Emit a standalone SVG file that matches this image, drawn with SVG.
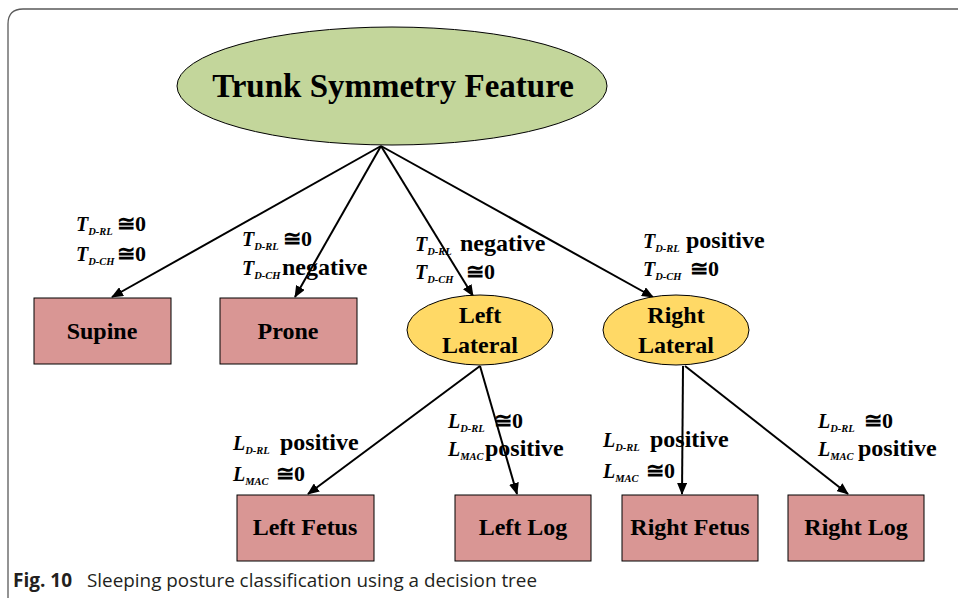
<svg xmlns="http://www.w3.org/2000/svg" width="958" height="598" viewBox="0 0 958 598">
<style>
.frame{fill:none;stroke:#5a5a5a;stroke-width:1.3}
.conn line{stroke:#000;stroke-width:2;marker-end:url(#ah)}
.root{fill:#c3d69b;stroke:#000;stroke-width:1}
.mid{fill:#ffd966;stroke:#000;stroke-width:1}
.leaf{fill:#d99694;stroke:#000;stroke-width:1}
.t{font-family:"Liberation Serif","DejaVu Serif",serif;font-weight:bold;fill:#000}
.nl{font-size:24px;text-anchor:middle}
.v{font-style:italic;font-size:20px}
.s{font-style:italic;font-size:10.5px}
.w{font-size:24px}
.a{font-size:22px}
.cap{font-family:"Open Sans","Noto Sans",sans-serif;font-size:19px;fill:#231f20}
</style>
<defs>
<marker id="ah" markerWidth="12" markerHeight="10" refX="11" refY="5" orient="auto" markerUnits="userSpaceOnUse">
<path d="M0,0 L12,5 L0,10 Z" fill="#000"/>
</marker>
</defs>
<path class="frame" d="M8,598 V24 Q8,9 23,9 H958"/>

<g id="connectors" class="conn">
<line x1="381" y1="146" x2="112" y2="297"/>
<line x1="381" y1="146" x2="295" y2="297"/>
<line x1="381" y1="146" x2="473" y2="296"/>
<line x1="381" y1="146" x2="653" y2="297"/>
<line x1="480" y1="366" x2="308" y2="494"/>
<line x1="480" y1="366" x2="517" y2="494"/>
<line x1="683" y1="366" x2="682" y2="494"/>
<line x1="685" y1="366" x2="848" y2="494"/>
</g>

<g id="trunk">
<ellipse class="root" cx="392" cy="86" rx="215" ry="59"/>
<text class="t" x="393" y="97" font-size="33" text-anchor="middle">Trunk Symmetry Feature</text>
</g>
<g id="supine">
<rect class="leaf" x="34" y="298" width="137" height="66"/>
<text class="t nl" x="102" y="339">Supine</text>
</g>
<g id="prone">
<rect class="leaf" x="220" y="298" width="137" height="66"/>
<text class="t nl" x="288" y="339">Prone</text>
</g>
<g id="left-lateral">
<ellipse class="mid" cx="480" cy="330" rx="73" ry="35"/>
<text class="t nl" x="480" y="323">Left</text>
<text class="t nl" x="480" y="353">Lateral</text>
</g>
<g id="right-lateral">
<ellipse class="mid" cx="676" cy="330" rx="73" ry="35"/>
<text class="t nl" x="676" y="323">Right</text>
<text class="t nl" x="676" y="353">Lateral</text>
</g>
<g id="left-fetus">
<rect class="leaf" x="237" y="495" width="137" height="66"/>
<text class="t nl" x="305" y="535">Left Fetus</text>
</g>
<g id="left-log">
<rect class="leaf" x="455" y="495" width="136" height="66"/>
<text class="t nl" x="523" y="535">Left Log</text>
</g>
<g id="right-fetus">
<rect class="leaf" x="622" y="495" width="136" height="66"/>
<text class="t nl" x="690" y="535">Right Fetus</text>
</g>
<g id="right-log">
<rect class="leaf" x="788" y="495" width="136" height="66"/>
<text class="t nl" x="856" y="535">Right Log</text>
</g>

<g id="labels">
<text class="t"><tspan class="v" x="76" y="231">T</tspan><tspan class="s" dy="4">D-RL</tspan><tspan class="a" x="117" y="231">≅0</tspan></text>
<text class="t"><tspan class="v" x="76" y="261">T</tspan><tspan class="s" dy="4">D-CH</tspan><tspan class="a" x="117" y="261">≅0</tspan></text>
<text class="t"><tspan class="v" x="242" y="246">T</tspan><tspan class="s" dy="4">D-RL</tspan><tspan class="a" x="283" y="246">≅0</tspan></text>
<text class="t"><tspan class="v" x="242" y="275">T</tspan><tspan class="s" dy="4">D-CH</tspan><tspan class="w" x="282" y="275">negative</tspan></text>
<text class="t"><tspan class="v" x="415" y="251">T</tspan><tspan class="s" dy="4">D-RL</tspan><tspan class="w" x="460" y="251">negative</tspan></text>
<text class="t"><tspan class="v" x="415" y="279">T</tspan><tspan class="s" dy="4">D-CH</tspan><tspan class="a" x="466" y="279">≅0</tspan></text>
<text class="t"><tspan class="v" x="643" y="248">T</tspan><tspan class="s" dy="4">D-RL</tspan><tspan class="w" x="686" y="248">positive</tspan></text>
<text class="t"><tspan class="v" x="643" y="276">T</tspan><tspan class="s" dy="4">D-CH</tspan><tspan class="a" x="690" y="276">≅0</tspan></text>
<text class="t"><tspan class="v" x="233" y="450">L</tspan><tspan class="s" dy="4">D-RL</tspan><tspan class="w" x="280" y="450">positive</tspan></text>
<text class="t"><tspan class="v" x="233" y="481">L</tspan><tspan class="s" dy="4">MAC</tspan><tspan class="a" x="276" y="481">≅0</tspan></text>
<text class="t"><tspan class="v" x="448" y="428">L</tspan><tspan class="s" dy="4">D-RL</tspan><tspan class="a" x="494" y="428">≅0</tspan></text>
<text class="t"><tspan class="v" x="448" y="456">L</tspan><tspan class="s" dy="4">MAC</tspan><tspan class="w" x="485" y="456">positive</tspan></text>
<text class="t"><tspan class="v" x="603" y="447">L</tspan><tspan class="s" dy="4">D-RL</tspan><tspan class="w" x="650" y="447">positive</tspan></text>
<text class="t"><tspan class="v" x="603" y="478">L</tspan><tspan class="s" dy="4">MAC</tspan><tspan class="a" x="646" y="478">≅0</tspan></text>
<text class="t"><tspan class="v" x="818" y="428">L</tspan><tspan class="s" dy="4">D-RL</tspan><tspan class="a" x="864" y="428">≅0</tspan></text>
<text class="t"><tspan class="v" x="818" y="456">L</tspan><tspan class="s" dy="4">MAC</tspan><tspan class="w" x="858" y="456">positive</tspan></text>
</g>

<text class="cap" x="13" y="587"><tspan font-weight="bold">Fig. 10</tspan><tspan x="87" textLength="450" lengthAdjust="spacingAndGlyphs">Sleeping posture classification using a decision tree</tspan></text>
</svg>
